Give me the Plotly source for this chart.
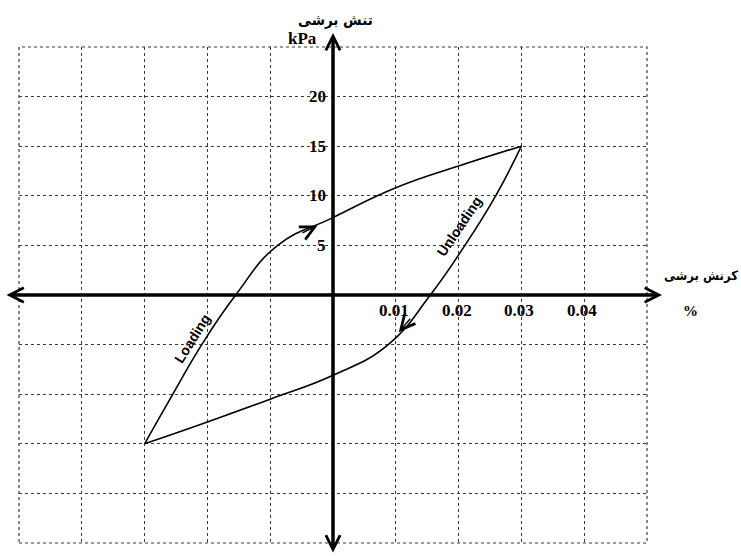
import plotly.graph_objects as go

# ---- data ----
loading_x = [-0.03, -0.0255, -0.0209, -0.0155, -0.0088, 0.0, 0.01, 0.02, 0.03]
loading_y = [-15.0, -10.0, -5.0, 0.0, 5.0, 7.8, 10.8, 13.0, 15.0]

unloading_x = [0.03, 0.0259, 0.021, 0.0155, 0.0088, 0.0, -0.01, -0.02, -0.03]
unloading_y = [15.0, 10.0, 5.0, 0.0, -5.0, -8.1, -10.5, -12.8, -15.0]

# arrowhead on each branch: segment index and fraction along that segment
loading_arrow = (4, 0.72)
unloading_arrow = (3, 0.75)

x_tick_vals = [0.01, 0.02, 0.03, 0.04]
x_tick_text = ["0.01", "0.02", "0.03", "0.04"]
y_tick_vals = [5, 10, 15, 20]
y_tick_text = ["5", "10", "15", "20"]

y_title = "تنش برشی"
y_unit = "kPa"
x_title = "کرنش برشی"
x_unit = "%"

# ---- figure ----
W, H = 741, 556
ML, MR, MT, MB = 19, 94, 47, 13
PW, PH = W - ML - MR, H - MT - MB

fig = go.Figure()
line_style = dict(color="black", width=1.6, shape="spline", smoothing=1.3)
fig.add_trace(go.Scatter(x=loading_x, y=loading_y, mode="lines", line=line_style,
                         hoverinfo="skip", name="Loading"))
fig.add_trace(go.Scatter(x=unloading_x, y=unloading_y, mode="lines", line=line_style,
                         hoverinfo="skip", name="Unloading"))

grid = dict(showgrid=True, griddash="dot", gridcolor="#3a3a3a", gridwidth=1.2,
            zeroline=False, showticklabels=False, showline=False, ticks="", fixedrange=True)
fig.update_xaxes(range=[-0.05, 0.05], tick0=0, dtick=0.01, **grid)
fig.update_yaxes(range=[-25, 25], tick0=0, dtick=5, **grid)

fig.update_layout(width=W, height=H, margin=dict(l=ML, r=MR, t=MT, b=MB, pad=0),
                  plot_bgcolor="white", paper_bgcolor="white", showlegend=False)

# dotted frame
fig.add_shape(type="rect", xref="paper", yref="paper", x0=0, x1=1, y0=0, y1=1,
              line=dict(color="#3a3a3a", width=1.2, dash="dot"))

ann = []
# main axes with arrows (x: 5px -> 662px, y: 33px -> 554px)
ann.append(dict(xref="paper", yref="y", x=(662 - ML) / PW, y=0, axref="pixel", ayref="pixel",
                ax=-(662 - 5), ay=0, text="", showarrow=True, arrowhead=5, arrowside="end+start",
                arrowwidth=3.5, arrowsize=0.8, arrowcolor="black"))
ann.append(dict(xref="x", yref="paper", x=0, y=(H - MB - 33) / PH, axref="pixel", ayref="pixel",
                ax=0, ay=554 - 33, text="", showarrow=True, arrowhead=5, arrowside="end+start",
                arrowwidth=3.5, arrowsize=0.8, arrowcolor="black"))

tick_font = dict(family="Liberation Serif", size=17, color="black", weight="bold")
for v, t in zip(x_tick_vals, x_tick_text):
    ann.append(dict(xref="x", yref="y", x=v, y=0, text=t, showarrow=False,
                    xanchor="center", yanchor="top", xshift=-2, yshift=-4, font=tick_font))
for v, t in zip(y_tick_vals, y_tick_text):
    ann.append(dict(xref="x", yref="y", x=0, y=v, text=t, showarrow=False,
                    xanchor="right", yanchor="middle", xshift=-5, font=tick_font))

# axis titles
ar_font = dict(family="DejaVu Sans Condensed", size=15, color="black", weight="bold")
ann.append(dict(xref="x", yref="paper", x=0, y=(H - MB - 20) / PH, text=y_title, showarrow=False,
                xanchor="center", yanchor="middle", xshift=2, font=ar_font))
ann.append(dict(xref="x", yref="paper", x=0, y=(H - MB - 38) / PH, text=y_unit, showarrow=False,
                xanchor="right", yanchor="middle", xshift=-14,
                font=dict(family="Liberation Serif", size=17, color="black", weight="bold")))
ann.append(dict(xref="paper", yref="y", x=(740 - ML) / PW, y=0, text=x_title, showarrow=False,
                xanchor="right", yanchor="middle", yshift=20,
                font=dict(family="DejaVu Sans Condensed", size=13, color="black", weight="bold")))
ann.append(dict(xref="paper", yref="y", x=(690 - ML) / PW, y=0, text=x_unit, showarrow=False,
                xanchor="center", yanchor="middle", yshift=-16,
                font=dict(family="Liberation Serif", size=15, color="black", weight="bold")))

# curve labels
lab_font = dict(family="Liberation Sans", size=14, color="black", weight="bold")
ann.append(dict(xref="x", yref="y", x=-0.0225, y=-4.4, text="Loading", textangle=-58,
                showarrow=False, font=lab_font))
ann.append(dict(xref="x", yref="y", x=0.0200, y=6.9, text="Unloading", textangle=-56,
                showarrow=False, font=lab_font))

# arrowheads on curves, pointing along each branch
def branch_arrow(xs, ys, seg):
    i, f = seg
    dx, dy = xs[i + 1] - xs[i], ys[i + 1] - ys[i]
    hx, hy = xs[i] + f * dx, ys[i] + f * dy
    tx, ty = xs[i] + (f - 0.3) * dx, ys[i] + (f - 0.3) * dy
    return dict(xref="x", yref="y", axref="x", ayref="y", x=hx, y=hy, ax=tx, ay=ty,
                text="", showarrow=True, arrowhead=5, arrowwidth=1.4, arrowsize=2.0,
                arrowcolor="black")

ann.append(branch_arrow(loading_x, loading_y, loading_arrow))
ann.append(branch_arrow(unloading_x, unloading_y, unloading_arrow))

fig.update_layout(annotations=ann)
fig.write_html("out.html", config={"displayModeBar": False},
               post_script="document.body.style.margin='0px';")
